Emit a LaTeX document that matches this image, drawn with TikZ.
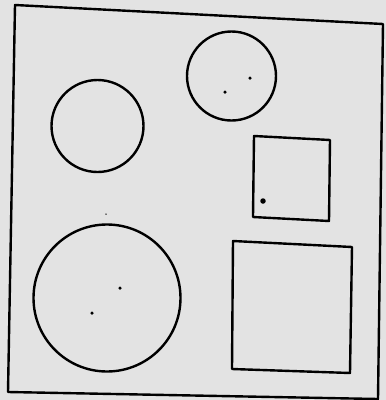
\documentclass[tikz,border=0pt]{standalone}
\usepackage{tikz}
\usetikzlibrary{positioning,calc}

\begin{document}
\begin{tikzpicture}[x=1pt, y=-1pt,
    trait/.style={draw, line width=2.4pt, line join=round},
    rond/.style={circle, draw, line width=2.4pt, inner sep=0pt},
    point/.style={fill, circle, inner sep=0pt, minimum size=3.5pt}
]
% Fond
\fill[gray!22] (0,0) rectangle (386,400);
\useasboundingbox (0,0) rectangle (386,400);

% Cadre
\draw[trait] (15,5) -- (383,24) -- (378,399) -- (8,392) -- cycle;

% Cercles
\node[rond, minimum size=92pt] (c1) at (97.5,126) {};
\node[rond, minimum size=89pt] (c2) at (231.5,76) {};
\node[rond, minimum size=147pt] (c3) at (107,298) {};

% Carres
\draw[trait] (254,136) -- (330,140) -- (329,221) -- (253,217) -- cycle;
\draw[trait] (233,241) -- (352,247) -- (350,373) -- (232,369) -- cycle;

% Points
\node[point] (p1) at (250,78) {};
\node[point] (p2) at (225,92) {};
\node[point] (p3) at (120,288) {};
\node[point] (p4) at (92,313) {};
\node[point, minimum size=5.5pt] (p5) at (263,201) {};
\node[fill, circle, inner sep=0pt, minimum size=1.5pt] (p6) at (106,214) {};
\end{tikzpicture}
\end{document}
